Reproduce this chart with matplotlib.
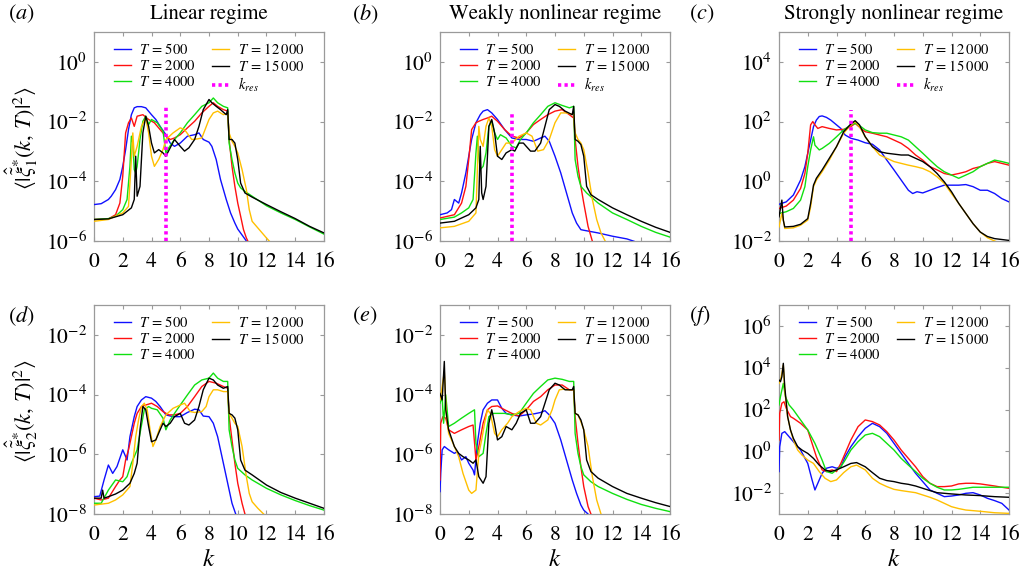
import numpy as np
import matplotlib
matplotlib.use("Agg")
import matplotlib.pyplot as plt

plt.rcParams['font.family'] = ['STIXGeneral', 'DejaVu Serif']
plt.rcParams['mathtext.fontset'] = 'stix'

# ---------------- data (k, log10 of spectrum) ----------------
T_values = [500, 2000, 4000, 12000, 15000]
colors = ['#1010ff', '#ff1010', '#10e010', '#ffc000', '#000000']
titles = ['Linear regime', 'Weakly nonlinear regime', 'Strongly nonlinear regime']
panel_tags = ['a', 'b', 'c', 'd', 'e', 'f']
ylims_log = [(-6, 1), (-6, 1), (-2, 5), (-8, -1), (-8, -1), (-3, 7)]
kres = 5.0
kres_top_log = [-1.49, -1.73, 2.39]

a_500 = [(0,-4.78),(0.5,-4.75),(1,-4.61),(1.2,-4.5),(1.5,-4.28),(1.8,-3.94),(2.0,-3.5),(2.2,-2.94),(2.4,-2.27),(2.6,-1.77),(2.8,-1.54),(3.0,-1.5),(3.3,-1.5),(3.6,-1.54),(4.0,-1.77),(4.3,-1.93),(4.6,-2.16),(5.0,-2.44),(5.3,-2.72),(5.6,-2.83),(6.0,-2.72),(6.5,-2.49),(7.0,-2.44),(7.3,-2.38),(7.6,-2.6),(8.0,-2.69),(8.2,-2.83),(8.5,-3.27),(8.8,-3.94),(9.2,-4.61),(9.5,-5.06),(9.8,-5.4),(10.0,-5.6),(10.3,-5.8),(10.6,-6.0),(10.8,-6.1)]
a_2000 = [(0,-5.28),(1,-5.26),(1.5,-5.12),(1.8,-4.73),(2.0,-3.83),(2.2,-2.38),(2.4,-2.04),(2.6,-1.88),(2.8,-2.16),(3.0,-1.82),(3.4,-1.77),(3.8,-1.93),(4.2,-2.04),(4.6,-2.27),(5.0,-2.49),(5.3,-2.6),(5.6,-2.55),(6.0,-2.44),(6.5,-2.21),(7.0,-1.99),(7.5,-1.71),(8.0,-1.49),(8.3,-1.37),(8.6,-1.49),(9.0,-1.6),(9.3,-1.65),(9.4,-2.6),(9.6,-3.5),(9.8,-4.17),(10.0,-4.73),(10.2,-5.17),(10.4,-5.62),(10.6,-5.9),(10.8,-6.1)]
a_4000 = [(0,-5.28),(1,-5.25),(1.5,-5.17),(2.0,-4.95),(2.3,-4.61),(2.5,-3.5),(2.6,-2.49),(2.7,-2.72),(2.8,-3.61),(2.9,-3.72),(3.0,-3.5),(3.2,-2.6),(3.4,-1.99),(3.6,-1.82),(3.8,-2.1),(4.0,-1.93),(4.4,-2.04),(4.8,-2.32),(5.0,-3.05),(5.2,-2.88),(5.6,-2.6),(6.0,-2.38),(6.5,-2.04),(7.0,-1.77),(7.5,-1.49),(8.0,-1.37),(8.3,-1.21),(8.6,-1.37),(9.0,-1.49),(9.3,-1.54),(9.4,-2.72),(9.6,-3.27),(9.8,-3.72),(10.0,-4.06),(10.2,-4.22),(10.5,-4.34),(11,-4.5),(12,-4.82),(13,-5.06),(14,-5.28),(15,-5.53),(16,-5.77)]
a_12000 = [(0,-5.34),(1,-5.28),(2,-5.06),(2.4,-4.84),(2.6,-3.27),(2.7,-2.38),(2.8,-3.16),(3.0,-2.83),(3.3,-2.16),(3.6,-1.88),(3.8,-2.38),(4.0,-3.16),(4.2,-3.5),(4.5,-3.27),(4.8,-2.94),(5.0,-2.6),(5.5,-2.38),(6.0,-2.21),(6.3,-2.27),(6.8,-2.6),(7.2,-2.58),(7.5,-2.55),(8.0,-1.93),(8.3,-1.71),(8.6,-1.65),(9.0,-1.77),(9.3,-1.71),(9.4,-2.38),(9.6,-2.66),(9.8,-2.83),(10.0,-3.05),(10.3,-3.61),(10.6,-4.28),(10.8,-4.95),(11.0,-5.34),(11.5,-5.62),(12.0,-5.9),(12.3,-6.06)]
a_15000 = [(0,-5.28),(1,-5.26),(2,-5.12),(2.6,-4.89),(2.8,-4.61),(2.9,-3.16),(3.0,-4.5),(3.2,-4.17),(3.4,-2.38),(3.6,-1.82),(3.8,-2.16),(4.0,-2.72),(4.2,-3.05),(4.5,-2.94),(4.8,-3.05),(5.0,-3.16),(5.3,-2.88),(5.6,-2.6),(6.0,-2.83),(6.3,-2.99),(6.6,-2.88),(7.0,-2.6),(7.3,-2.16),(7.6,-1.6),(8.0,-1.26),(8.2,-1.37),(8.5,-1.49),(8.8,-1.6),(9.2,-1.77),(9.3,-1.6),(9.4,-2.6),(9.6,-2.6),(9.8,-2.72),(10.0,-3.27),(10.2,-4.06),(10.5,-4.39),(11,-4.53),(12,-4.78),(13,-5.02),(14,-5.25),(15,-5.51),(16,-5.73)]

b_500 = [(0,-5.12),(0.5,-5.06),(0.8,-4.95),(1.0,-4.61),(1.3,-4.73),(1.5,-4.39),(1.8,-3.72),(2.0,-3.16),(2.2,-2.6),(2.5,-2.04),(2.8,-1.77),(3.0,-1.65),(3.3,-1.6),(3.6,-1.71),(4.0,-1.93),(4.5,-2.27),(5.0,-2.55),(5.5,-2.6),(6.0,-2.6),(6.5,-2.66),(7.0,-2.55),(7.3,-2.49),(7.6,-2.66),(8.0,-3.16),(8.4,-3.72),(8.8,-4.39),(9.2,-5.06),(9.5,-5.4),(9.8,-5.62),(10.0,-5.64),(11,-5.73),(12,-5.84),(13,-5.93),(13.5,-6.01)]
b_2000 = [(0,-5.23),(1,-5.12),(1.5,-4.73),(1.8,-4.17),(2.0,-3.27),(2.2,-2.27),(2.5,-2.04),(2.7,-1.99),(3.0,-1.93),(3.3,-1.88),(3.6,-1.82),(4.0,-1.99),(4.5,-2.27),(5.0,-2.49),(5.5,-2.55),(6.0,-2.38),(6.5,-2.1),(7.0,-1.93),(7.5,-1.77),(8.0,-1.65),(8.5,-1.6),(9.0,-1.77),(9.3,-1.88),(9.4,-2.6),(9.6,-3.5),(9.8,-4.17),(10.0,-4.73),(10.3,-5.51),(10.6,-6.01)]
b_4000 = [(0,-5.28),(1,-5.2),(1.5,-5.06),(2.0,-4.89),(2.3,-4.61),(2.5,-3.05),(2.6,-2.49),(2.7,-3.16),(2.8,-3.61),(3.0,-3.5),(3.2,-3.05),(3.4,-2.16),(3.6,-1.99),(3.8,-2.38),(4.0,-2.6),(4.2,-2.44),(4.6,-2.55),(5.0,-2.83),(5.3,-2.88),(5.6,-2.6),(6.0,-2.38),(6.5,-2.04),(7.0,-1.77),(7.5,-1.49),(8.0,-1.37),(8.5,-1.46),(9.0,-1.54),(9.3,-1.49),(9.4,-3.27),(9.6,-3.83),(9.8,-4.17),(10.2,-4.39),(11,-4.73),(12,-5.06),(13,-5.28),(14,-5.51),(15,-5.71),(16,-5.87)]
b_12000 = [(0,-5.56),(1,-5.51),(2,-5.34),(2.5,-5.06),(2.7,-2.16),(2.8,-2.6),(3.0,-2.83),(3.2,-2.16),(3.4,-1.88),(3.6,-2.16),(3.8,-2.94),(4.0,-3.16),(4.3,-2.94),(4.6,-2.72),(5.0,-2.72),(5.5,-2.49),(6.0,-2.38),(6.4,-2.49),(6.8,-2.99),(7.2,-2.94),(7.6,-2.6),(8.0,-2.04),(8.4,-1.71),(8.8,-1.71),(9.3,-1.77),(9.4,-2.38),(9.6,-2.6),(9.8,-2.72),(10.0,-2.94),(10.3,-3.72),(10.6,-4.61),(10.9,-5.28),(11.2,-5.73),(11.5,-6.01)]
b_15000 = [(0,-5.4),(1,-5.34),(2,-5.12),(2.5,-4.89),(2.7,-4.61),(2.8,-2.83),(2.9,-4.39),(3.0,-4.61),(3.2,-4.17),(3.4,-2.16),(3.6,-1.93),(3.8,-2.38),(4.0,-3.16),(4.3,-3.27),(4.6,-3.05),(5.0,-2.94),(5.2,-2.99),(5.5,-2.72),(5.8,-2.72),(6.0,-2.83),(6.3,-2.99),(6.6,-2.99),(7.0,-2.72),(7.3,-2.16),(7.6,-1.6),(8.0,-1.43),(8.3,-1.49),(8.7,-1.65),(9.2,-1.77),(9.3,-1.49),(9.4,-2.6),(9.6,-2.66),(9.8,-2.77),(10.0,-3.16),(10.2,-4.17),(10.5,-4.45),(11,-4.61),(12,-4.89),(13,-5.12),(14,-5.34),(15,-5.54),(16,-5.71)]

c_500 = [(0,-0.77),(0.5,-0.69),(1.0,-0.46),(1.5,0.04),(1.8,0.49),(2.0,0.94),(2.2,1.38),(2.4,1.83),(2.6,2.05),(2.8,2.17),(3.0,2.19),(3.3,2.14),(3.6,2.05),(4.0,1.89),(4.3,1.77),(4.6,1.55),(5.0,1.44),(5.5,1.38),(6.0,1.29),(6.5,1.24),(7.0,1.05),(7.5,0.71),(8.0,0.38),(8.5,0.04),(9.0,-0.3),(9.3,-0.41),(9.6,-0.35),(10,-0.39),(10.5,-0.3),(11,-0.21),(11.5,-0.13),(12,-0.13),(12.5,-0.13),(13,-0.11),(13.5,-0.18),(14,-0.3),(14.5,-0.3),(15,-0.41),(15.5,-0.58),(16,-0.69)]
c_2000 = [(0,-0.91),(0.5,-0.83),(1.0,-0.63),(1.5,-0.24),(1.8,0.26),(2.0,0.94),(2.2,1.89),(2.35,2.0),(2.5,1.89),(2.7,1.77),(3.0,1.83),(3.5,1.77),(4.0,1.72),(4.5,1.74),(5.0,1.83),(5.3,1.94),(5.7,1.77),(6.0,1.66),(6.5,1.61),(7.0,1.55),(7.5,1.49),(8.0,1.38),(8.5,1.27),(9.0,1.1),(9.5,0.88),(10,0.71),(10.5,0.49),(11,0.38),(11.5,0.26),(12,0.21),(12.5,0.26),(13,0.32),(13.5,0.43),(14,0.49),(14.5,0.6),(15,0.66),(15.5,0.6),(16,0.54)]
c_4000 = [(0,-1.08),(0.5,-1.02),(1.0,-0.91),(1.5,-0.63),(1.8,-0.18),(2.0,0.49),(2.2,1.05),(2.4,1.49),(2.5,1.21),(2.8,1.05),(3.0,1.1),(3.5,1.27),(4.0,1.49),(4.5,1.72),(5.0,1.89),(5.3,1.94),(5.7,1.83),(6.0,1.72),(6.5,1.63),(7.0,1.61),(7.5,1.61),(8.0,1.55),(8.5,1.49),(9.0,1.38),(9.5,1.16),(10,0.94),(10.5,0.71),(11,0.49),(11.5,0.32),(12,0.21),(12.5,0.1),(13,0.21),(13.5,0.32),(14,0.49),(14.5,0.6),(15,0.71),(15.5,0.66),(16,0.6)]
c_12000 = [(0,-1.53),(0.2,-1.08),(0.3,-1.3),(0.4,-1.58),(1.0,-1.56),(1.5,-1.47),(2.0,-1.3),(2.2,-0.86),(2.4,-0.18),(2.6,0.04),(3.0,0.32),(3.5,0.71),(4.0,1.16),(4.5,1.61),(5.0,1.89),(5.3,2.0),(5.6,1.83),(6.0,1.49),(6.5,1.16),(7.0,0.88),(7.5,0.77),(8.0,0.66),(8.5,0.6),(9.0,0.54),(9.5,0.49),(10,0.43),(10.5,0.32),(11,0.15),(11.5,-0.07),(12,-0.41),(12.5,-0.74),(13,-1.08),(13.5,-1.42),(14,-1.7),(14.5,-1.89),(15,-2.0),(15.5,-2.09),(16,-2.14)]
c_15000 = [(0,-1.19),(0.2,-0.63),(0.3,-1.3),(0.4,-1.53),(1.0,-1.51),(1.5,-1.44),(2.0,-1.25),(2.2,-0.74),(2.4,-0.13),(2.6,0.1),(3.0,0.38),(3.5,0.77),(4.0,1.16),(4.5,1.66),(5.0,1.92),(5.3,2.03),(5.6,1.89),(6.0,1.49),(6.5,1.16),(7.0,0.99),(7.5,0.94),(8.0,0.91),(8.5,0.88),(9.0,0.88),(9.5,0.77),(10,0.66),(10.5,0.49),(11,0.26),(11.5,-0.02),(12,-0.35),(12.5,-0.74),(13,-1.08),(13.5,-1.42),(14,-1.7),(14.5,-1.85),(15,-1.92),(15.5,-1.95),(16,-1.98)]

d_500 = [(0,-7.42),(0.4,-7.4),(0.7,-6.86),(1.0,-6.36),(1.3,-6.64),(1.6,-6.41),(2.0,-5.85),(2.3,-6.19),(2.5,-5.41),(2.8,-4.74),(3.0,-4.4),(3.3,-4.18),(3.6,-4.07),(4.0,-4.12),(4.3,-4.23),(4.6,-4.4),(5.0,-4.68),(5.5,-4.74),(6.0,-4.74),(6.5,-4.6),(7.0,-4.49),(7.3,-4.51),(7.6,-4.72),(8.0,-4.74),(8.3,-4.96),(8.6,-5.41),(9.0,-6.3),(9.3,-6.97),(9.6,-7.64),(9.8,-7.92),(10.0,-8.2)]
d_2000 = [(0,-7.47),(0.5,-7.53),(1.0,-7.47),(1.5,-7.08),(1.8,-6.86),(2.0,-6.75),(2.2,-6.19),(2.4,-5.85),(2.6,-5.41),(2.8,-4.96),(3.0,-4.63),(3.3,-4.4),(3.6,-4.35),(4.0,-4.29),(4.4,-4.4),(4.8,-4.57),(5.2,-4.68),(5.6,-4.68),(6.0,-4.63),(6.5,-4.4),(7.0,-4.07),(7.5,-3.73),(8.0,-3.56),(8.5,-3.62),(9.0,-3.73),(9.3,-3.79),(9.4,-4.74),(9.6,-5.52),(9.8,-6.3),(10.0,-6.97),(10.3,-7.64),(10.5,-8.0),(10.6,-8.2)]
d_4000 = [(0,-7.64),(0.5,-7.64),(1.0,-7.2),(1.5,-6.86),(2.0,-6.92),(2.3,-6.75),(2.6,-6.3),(2.8,-6.08),(3.0,-5.85),(3.2,-5.3),(3.5,-4.51),(3.8,-4.4),(4.0,-4.46),(4.4,-4.51),(4.8,-4.79),(5.0,-5.18),(5.3,-4.85),(5.6,-4.63),(6.0,-4.35),(6.5,-4.01),(7.0,-3.68),(7.5,-3.51),(8.0,-3.45),(8.3,-3.28),(8.6,-3.45),(9.0,-3.56),(9.3,-3.56),(9.4,-5.18),(9.6,-5.74),(9.8,-6.19),(10.0,-6.47),(10.5,-6.69),(11,-6.86),(12,-7.14),(13,-7.36),(14,-7.55),(15,-7.72),(16,-7.87)]
d_12000 = [(0,-7.7),(1.0,-7.64),(1.5,-7.53),(2.0,-7.36),(2.5,-7.08),(2.7,-6.3),(2.9,-5.41),(3.1,-4.85),(3.3,-4.4),(3.5,-4.29),(3.7,-4.51),(3.9,-5.18),(4.1,-5.74),(4.3,-5.52),(4.6,-5.07),(5.0,-4.68),(5.5,-4.46),(6.0,-4.35),(6.3,-4.29),(6.7,-4.57),(7.0,-4.6),(7.5,-4.57),(7.8,-4.4),(8.0,-4.07),(8.3,-3.84),(8.6,-3.84),(9.0,-3.9),(9.3,-3.9),(9.4,-4.63),(9.6,-4.79),(9.8,-4.96),(10.0,-5.07),(10.3,-5.74),(10.6,-6.75),(10.8,-7.31),(11.0,-7.59),(11.4,-7.81),(11.8,-8.0),(12.0,-8.09)]
d_15000 = [(0,-7.47),(0.5,-7.47),(0.6,-7.2),(0.7,-7.47),(1.0,-7.42),(1.5,-7.33),(2.0,-7.2),(2.5,-6.97),(2.8,-6.64),(3.0,-6.3),(3.1,-5.74),(3.2,-5.18),(3.4,-4.4),(3.6,-4.51),(3.8,-5.07),(4.0,-5.58),(4.3,-5.52),(4.6,-5.18),(4.8,-4.96),(5.0,-5.07),(5.3,-4.96),(5.6,-4.74),(6.0,-4.63),(6.3,-4.96),(6.6,-5.02),(7.0,-4.85),(7.3,-4.4),(7.6,-3.84),(8.0,-3.45),(8.3,-3.51),(8.6,-3.68),(9.0,-3.79),(9.3,-3.73),(9.4,-4.63),(9.6,-4.68),(9.8,-4.79),(10.0,-5.18),(10.2,-6.19),(10.5,-6.53),(11,-6.69),(12,-7.03),(13,-7.28),(14,-7.47),(15,-7.64),(16,-7.81)]

e_500 = [(0,-7.25),(0.05,-6.64),(0.15,-5.85),(0.3,-5.74),(0.6,-5.85),(1.0,-5.97),(1.2,-5.91),(1.5,-6.19),(1.8,-6.08),(2.0,-6.3),(2.3,-6.53),(2.4,-6.69),(2.6,-5.63),(2.8,-4.96),(3.0,-4.51),(3.3,-4.29),(3.6,-4.18),(4.0,-4.18),(4.3,-4.46),(4.6,-4.63),(5.0,-4.68),(5.5,-4.72),(6.0,-4.68),(6.5,-4.65),(7.0,-4.6),(7.3,-4.54),(7.6,-4.68),(8.0,-4.96),(8.4,-5.52),(8.8,-6.19),(9.2,-6.86),(9.5,-7.31),(9.8,-7.7),(10.0,-7.87),(10.3,-8.0),(10.5,-8.2)]
e_2000 = [(0,-6.86),(0.05,-4.96),(0.2,-4.74),(0.4,-4.79),(0.6,-5.18),(1.0,-5.3),(1.5,-5.18),(2.0,-5.07),(2.3,-5.02),(2.5,-6.19),(2.7,-5.74),(3.0,-4.96),(3.3,-4.51),(3.6,-4.4),(4.0,-4.38),(4.5,-4.51),(5.0,-4.63),(5.5,-4.72),(6.0,-4.51),(6.5,-4.23),(7.0,-4.07),(7.5,-3.84),(8.0,-3.68),(8.5,-3.68),(9.0,-3.84),(9.3,-3.84),(9.4,-4.74),(9.6,-5.63),(9.8,-6.41),(10.0,-7.08),(10.3,-7.75),(10.5,-8.0),(10.6,-8.2)]
e_4000 = [(0,-4.29),(0.15,-4.07),(0.25,-4.96),(0.4,-4.01),(0.6,-5.07),(1.0,-4.96),(1.5,-4.79),(2.0,-4.63),(2.4,-4.51),(2.5,-5.63),(2.7,-6.08),(3.0,-5.97),(3.2,-5.3),(3.4,-4.74),(3.7,-4.63),(4.0,-4.63),(4.5,-4.63),(5.0,-4.68),(5.5,-4.63),(6.0,-4.29),(6.5,-3.96),(7.0,-3.73),(7.5,-3.51),(8.0,-3.45),(8.5,-3.49),(9.0,-3.56),(9.3,-3.56),(9.4,-5.3),(9.6,-5.97),(9.8,-6.41),(10.0,-6.69),(10.5,-6.92),(11,-7.08),(12,-7.31),(13,-7.51),(14,-7.68),(15,-7.81),(16,-7.92)]
e_12000 = [(0,-4.18),(0.15,-3.73),(0.3,-3.23),(0.45,-4.74),(0.6,-5.3),(1.0,-5.74),(1.3,-6.08),(1.6,-6.64),(2.0,-7.2),(2.2,-7.31),(2.5,-7.2),(2.7,-5.97),(2.9,-5.52),(3.1,-4.96),(3.3,-4.51),(3.5,-4.63),(3.8,-5.3),(4.0,-5.41),(4.3,-5.18),(4.7,-4.96),(5.0,-4.74),(5.5,-4.57),(6.0,-4.46),(6.3,-4.51),(6.7,-4.96),(7.0,-5.02),(7.5,-4.85),(7.8,-4.51),(8.0,-4.18),(8.3,-3.84),(8.6,-3.82),(9.0,-3.84),(9.3,-3.84),(9.4,-4.63),(9.6,-4.68),(9.8,-4.91),(10.0,-5.18),(10.3,-5.74),(10.6,-6.75),(10.9,-7.53),(11.2,-8.0),(11.4,-8.2)]
e_15000 = [(0,-3.96),(0.15,-4.18),(0.3,-2.89),(0.4,-4.51),(0.6,-5.18),(1.0,-5.74),(1.3,-5.97),(1.6,-6.08),(2.0,-6.19),(2.3,-6.3),(2.5,-6.19),(2.7,-6.75),(3.0,-6.97),(3.2,-6.75),(3.4,-4.96),(3.6,-4.51),(3.8,-4.96),(4.0,-5.52),(4.3,-5.41),(4.6,-5.07),(5.0,-5.18),(5.3,-4.96),(5.6,-4.63),(6.0,-4.51),(6.3,-4.96),(6.6,-4.96),(7.0,-4.74),(7.3,-4.29),(7.6,-3.84),(8.0,-3.62),(8.3,-3.68),(8.7,-3.84),(9.2,-3.84),(9.3,-3.73),(9.4,-4.63),(9.6,-4.68),(9.8,-4.85),(10.0,-5.18),(10.2,-6.19),(10.5,-6.58),(11,-6.8),(12,-7.08),(13,-7.31),(14,-7.47),(15,-7.62),(16,-7.75)]

f_500 = [(0,-0.97),(0.05,0.22),(0.2,0.86),(0.4,0.94),(0.7,0.7),(1.0,0.46),(1.5,0.06),(2.0,-0.58),(2.3,-1.37),(2.5,-1.85),(2.7,-1.53),(3.0,-1.05),(3.3,-0.81),(3.7,-0.74),(4.0,-0.81),(4.3,-0.74),(4.6,-0.26),(5.0,0.22),(5.5,0.7),(6.0,1.1),(6.5,1.34),(7.0,1.18),(7.5,0.86),(8.0,0.38),(8.5,-0.1),(9.0,-0.58),(9.5,-1.05),(10.0,-1.45),(10.5,-1.85),(11.0,-2.01),(11.5,-2.17),(12.0,-2.14),(12.5,-2.09),(13.0,-2.01),(13.5,-1.98),(14.0,-2.09),(14.5,-2.25),(15.0,-2.36),(15.5,-2.49),(16.0,-2.81)]
f_2000 = [(0,0.54),(0.05,1.82),(0.2,2.3),(0.35,2.37),(0.5,2.06),(0.8,1.66),(1.0,1.58),(1.5,1.34),(2.0,1.02),(2.3,0.38),(2.6,-0.26),(3.0,-0.89),(3.3,-0.97),(3.7,-0.89),(4.0,-0.97),(4.3,-0.58),(4.6,-0.1),(5.0,0.54),(5.5,1.18),(6.0,1.5),(6.5,1.42),(7.0,1.26),(7.5,0.94),(8.0,0.54),(8.5,0.06),(9.0,-0.34),(9.5,-0.74),(10.0,-1.21),(10.5,-1.53),(11.0,-1.69),(11.5,-1.69),(12.0,-1.66),(12.5,-1.56),(13.0,-1.53),(13.5,-1.53),(14.0,-1.56),(14.5,-1.61),(15.0,-1.66),(15.5,-1.72),(16.0,-1.77)]
f_4000 = [(0,2.22),(0.1,2.61),(0.3,3.25),(0.45,2.61),(0.7,2.22),(1.0,1.98),(1.5,1.5),(2.0,1.02),(2.5,0.38),(3.0,-0.42),(3.3,-0.97),(3.7,-1.05),(4.0,-0.89),(4.3,-0.74),(4.6,-0.42),(5.0,0.06),(5.5,0.46),(6.0,0.78),(6.5,0.86),(7.0,0.7),(7.5,0.38),(8.0,0.06),(8.5,-0.34),(9.0,-0.66),(9.5,-0.97),(10.0,-1.29),(10.5,-1.53),(11.0,-1.72),(11.5,-1.85),(12.0,-1.85),(12.5,-1.82),(13.0,-1.77),(13.5,-1.72),(14.0,-1.72),(15.0,-1.72),(16.0,-1.72)]
f_12000 = [(0,3.25),(0.1,3.41),(0.2,3.73),(0.3,4.13),(0.4,2.93),(0.6,1.66),(0.8,1.02),(1.0,0.54),(1.3,0.06),(1.6,-0.18),(2.0,-0.42),(2.4,-0.58),(2.8,-0.97),(3.2,-1.29),(3.6,-1.45),(4.0,-1.37),(4.5,-1.02),(5.0,-0.74),(5.4,-0.66),(6.0,-0.89),(6.5,-1.29),(7.0,-1.53),(7.5,-1.69),(8.0,-1.82),(8.5,-1.88),(9.0,-1.93),(9.5,-1.98),(10.0,-2.09),(10.5,-2.2),(11.0,-2.33),(11.5,-2.49),(12.0,-2.65),(12.5,-2.74),(13.0,-2.81),(14.0,-2.87),(15.0,-2.94),(16.0,-2.97)]
f_15000 = [(0,3.41),(0.1,3.33),(0.2,3.57),(0.3,4.21),(0.4,3.09),(0.6,1.66),(0.8,1.02),(1.0,0.62),(1.3,0.22),(1.6,0.06),(2.0,-0.1),(2.4,-0.34),(2.8,-0.66),(3.2,-0.89),(3.6,-0.97),(4.0,-0.89),(4.5,-0.74),(5.0,-0.58),(5.4,-0.54),(6.0,-0.74),(6.5,-1.02),(7.0,-1.29),(7.5,-1.4),(8.0,-1.45),(8.5,-1.53),(9.0,-1.58),(9.5,-1.66),(10.0,-1.77),(10.5,-1.88),(11.0,-1.98),(12.0,-2.04),(13.0,-2.09),(14.0,-2.12),(15.0,-2.17),(16.0,-2.2)]

panels = [
    [a_500, a_2000, a_4000, a_12000, a_15000],
    [b_500, b_2000, b_4000, b_12000, b_15000],
    [c_500, c_2000, c_4000, c_12000, c_15000],
    [d_500, d_2000, d_4000, d_12000, d_15000],
    [e_500, e_2000, e_4000, e_12000, e_15000],
    [f_500, f_2000, f_4000, f_12000, f_15000],
]

# ---------------- figure ----------------
W, H = 1029, 576
fig = plt.figure(figsize=(W / 100, H / 100), dpi=100)
lefts = [94, 440, 779]
aw = 230
tops = [32, 305]
ah = 209

def fmt_T(t):
    s = f"{t:d}" if t < 10000 else f"{t // 1000:d}\\:{t % 1000:03d}"
    return rf"$T\,=\,{s}$"

frame_col = '#9a9a9a'
for idx in range(6):
    r, c = divmod(idx, 3)
    ax = fig.add_axes([lefts[c] / W, 1 - (tops[r] + ah) / H, aw / W, ah / H])
    for j, series in enumerate(panels[idx]):
        ks = [p[0] for p in series]
        vs = [10.0 ** p[1] for p in series]
        ax.plot(ks, vs, color=colors[j], lw=1.0, label=fmt_T(T_values[j]), zorder=3 + j)
    lo, hi = ylims_log[idx]
    if r == 0:
        ax.plot([kres, kres], [10.0 ** lo, 10.0 ** kres_top_log[c]], color='#ff00ff',
                lw=2.6, linestyle=(0, (0.9, 0.9)), label=r'$k_{res}$', zorder=10)
    ax.set_yscale('log')
    ax.set_xlim(0, 16)
    ax.set_ylim(10.0 ** lo, 10.0 ** hi)
    ax.set_xticks(np.arange(0, 17, 2))
    ax.set_yticks([10.0 ** e for e in range(lo, hi + 1) if e % 2 == 0])
    ax.yaxis.set_minor_locator(matplotlib.ticker.NullLocator())
    ax.tick_params(direction='in', length=3, width=0.8, color=frame_col,
                   top=True, right=True, labelsize=15.5)
    ax.tick_params(axis='x', pad=8)
    ax.tick_params(axis='y', pad=5)
    for sp in ax.spines.values():
        sp.set_color(frame_col)
        sp.set_linewidth(0.9)
    ax.legend(loc='upper center', bbox_to_anchor=(0.5, 1.0), ncol=2, frameon=False,
              fontsize=10.5, handlelength=1.15, handletextpad=0.6, columnspacing=1.1,
              labelspacing=0.12, borderaxespad=0.3, borderpad=0.4)
    if c == 0:
        lab = r'$\langle|\hat{\tilde{\xi}}_%d^{*}(k,\,T)|^2\rangle$' % (r + 1)
        fig.text(22 / W, 1 - (tops[r] + ah / 2 + 2) / H, lab, rotation=90,
                 ha='center', va='center', fontsize=16)
    if r == 1:
        ax.set_xlabel(r'$k$', fontsize=18, labelpad=2)
    tag_x = [8, 352, 689][c]
    tag_y = [14, 316][r]
    fig.text(tag_x / W, 1 - tag_y / H, r'$(%s)$' % panel_tags[idx], fontsize=16,
             ha='left', va='center')
    if r == 0:
        fig.text((lefts[c] + aw / 2) / W, 1 - 14 / H, titles[c], fontsize=15,
                 ha='center', va='center')

fig.savefig('out.png', dpi=100)
